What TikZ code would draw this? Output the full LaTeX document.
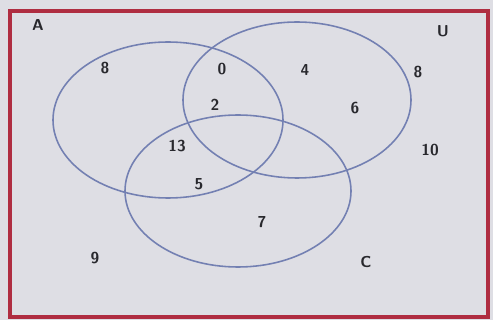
\documentclass[tikz,border=0pt]{standalone}
\usepackage{xcolor}
\usepackage{tikz}
\usetikzlibrary{arrows.meta,positioning,calc}
\definecolor{paper}{RGB}{222,222,228}
\definecolor{frameRed}{RGB}{175,45,65}
\definecolor{setLine}{RGB}{115,128,178}
\definecolor{inkGray}{RGB}{40,40,45}

\begin{document}
\begin{tikzpicture}[x=0.02cm,y=-0.02cm,
  every node/.style={font=\sffamily\bfseries\fontsize{9}{11}\selectfont,text=inkGray,inner sep=1pt},
  setline/.style={draw=setLine,line width=0.9pt}]
  \fill[paper] (0,0) rectangle (493,320);
  \useasboundingbox (0,0) rectangle (493,320);
  \draw[frameRed,line width=2.2pt] (10,11) rectangle (488,317);
  % the three sets
  \draw[setline] (168,120) ellipse [x radius=115,y radius=78];
  \draw[setline] (297,100) ellipse [x radius=114,y radius=78];
  \draw[setline] (238,191) ellipse [x radius=113,y radius=76];
  % labels and counts
  \foreach \t/\px/\py [count=\i] in {A/38/25,U/443/31,8/105/68,0/222/69,4/305/70,8/418/72,
      2/215/105,6/355/108,13/177/146,10/430/150,5/199/184,7/262/222,9/95/258,C/366/262} {
    \node (lbl\i) at (\px,\py) {\t};
  }
\end{tikzpicture}
\end{document}
